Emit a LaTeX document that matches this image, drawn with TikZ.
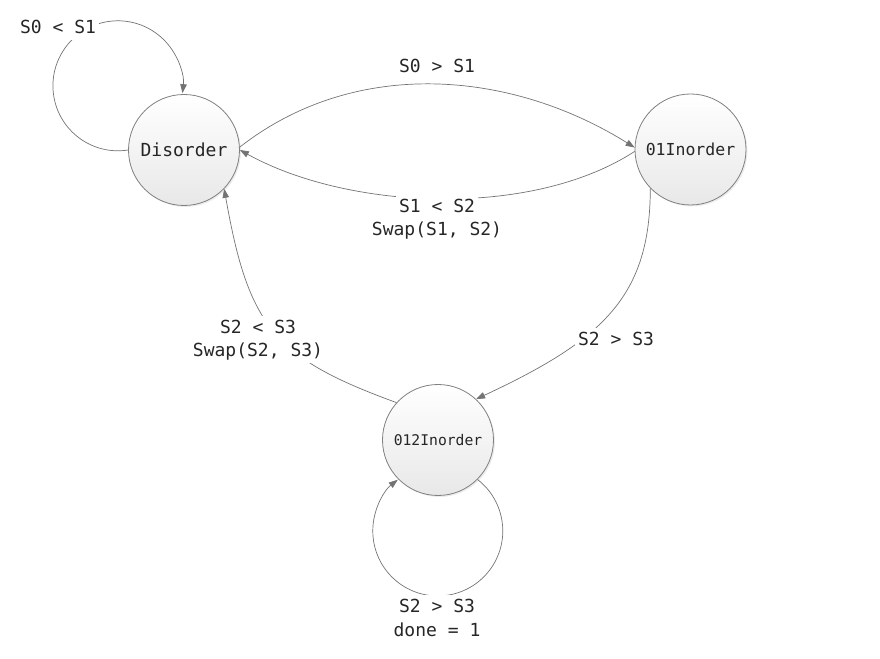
\documentclass[tikz,border=0pt]{standalone}
\usepackage{fontspec}
\setmonofont{DejaVu Sans Mono}
\usetikzlibrary{arrows.meta,shadows,positioning}

\begin{document}
\begin{tikzpicture}[x=1pt,y=1pt]

  \tikzstyle{state}=[circle,draw=black!50,line width=0.8pt,top color=white,bottom color=black!9,minimum size=111pt,inner sep=0pt,text=black!85,drop shadow={shadow xshift=1.5pt,shadow yshift=-1.5pt,opacity=0.15}]
  \tikzstyle{trans}=[draw=black!55,line width=0.7pt,-{Triangle[length=9pt,width=6.5pt]}]
  \tikzstyle{cond}=[fill=white,inner sep=3pt,text height=14.5pt,text depth=3.5pt,text=black!85,font=\ttfamily\fontsize{18}{23}\selectfont]

  \useasboundingbox (0,0) rectangle (880,658);

  \node[state,font=\ttfamily\fontsize{18}{20}\selectfont] (dis) at (184,508) {Disorder};
  \node[state,font=\ttfamily\fontsize{16.5}{18}\selectfont] (oin) at (690.5,508.5) {01Inorder};
  \node[state,font=\ttfamily\fontsize{14.7}{16}\selectfont] (tin) at (438,218) {012Inorder};

  \draw[trans] (dis.west) arc[start angle=-81,end angle=-366.5,radius=65];
  \draw[trans] (dis.3) to[out=38,in=148,looseness=0.95] (oin.178);
  \draw[trans] (oin.182) to[out=213,in=-29,looseness=0.8] (dis.east);
  \draw[trans] (oin.224) .. controls +(270:108) and +(25:140) .. (tin.47);
  \draw[trans] (tin.138) .. controls +(160:130) and +(-80:140) .. (dis.-44);
  \draw[trans] (tin.-45) arc[start angle=52.3,end angle=-232,radius=65];

  % conditions
  \node[cond] (c1) at (58,630) {S0 < S1};
  \node[cond] (c2) at (437,591) {S0 > S1};
  \node[cond] (c3) at (437,451) {S1 < S2};
  \node[cond,below=-1pt of c3] (c3b) {Swap(S1, S2)};
  \node[cond] (c4) at (616,318) {S2 > S3};
  \node[cond] (c5) at (258,330) {S2 < S3};
  \node[cond,below=-1pt of c5] (c5b) {Swap(S2, S3)};
  \node[cond] (c6) at (437,50.5) {S2 > S3};
  \node[cond,below=-1pt of c6] (c6b) {done = 1};

\end{tikzpicture}
\end{document}
